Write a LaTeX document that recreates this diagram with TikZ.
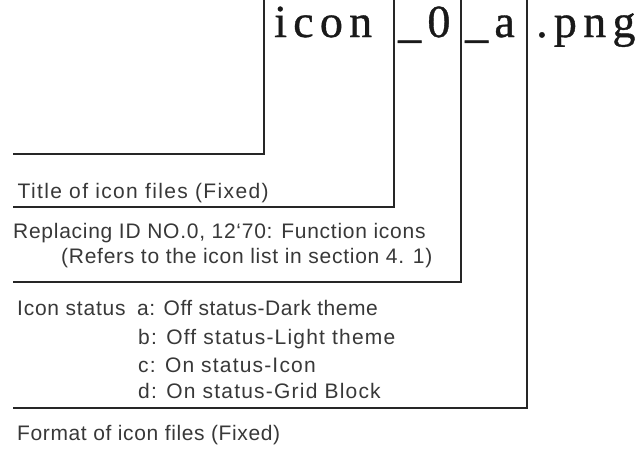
\documentclass[tikz,border=0pt]{standalone}
\usepackage{fontspec}
\setmainfont{Liberation Sans}
\newfontfamily\namefont[LetterSpace=13.6,FakeBold=0.8]{Liberation Serif}
\newcommand\setls[1]{\addfontfeature{LetterSpace=#1}}
\begin{document}
\begin{tikzpicture}[x=1pt,y=-1pt,
  bracket/.style={draw=black!85,line width=2.4pt,line join=miter},
  fname/.style={inner sep=0pt,anchor=base west,text=black!90,
    font=\namefont\fontsize{46}{50}\selectfont},
  label/.style={inner sep=0pt,anchor=base west,text=black!78,
    font=\fontsize{21}{24}\selectfont}]
\useasboundingbox[fill=white] (0,0) rectangle (643,456);
% file name parts
\node[fname] (icon) at (274,37) {icon};
\node[fname] (zero) at (398,37) {\_0};
\node[fname] (alet) at (465,37) {\_a};
\node[fname] (png)  at (536,37) {.png};
% bracket coordinates
\coordinate (t1) at (264,0);   \coordinate (c1) at (264,154); \coordinate (e1) at (13,154);
\coordinate (t2) at (394,0);   \coordinate (c2) at (394,207); \coordinate (e2) at (13,207);
\coordinate (t3) at (461,0);   \coordinate (c3) at (461,282); \coordinate (e3) at (13,282);
\coordinate (t4) at (527,0);   \coordinate (c4) at (527,408); \coordinate (e4) at (13,408);
\draw[bracket] (t1) -- (c1) -- (e1);
\draw[bracket] (t2) -- (c2) -- (e2);
\draw[bracket] (t3) -- (c3) -- (e3);
\draw[bracket] (t4) -- (c4) -- (e4);
% labels
\node[label] (title) at (17.5,198) {\setls{6.5}Title of icon files (Fixed)};
\node[label] (rep1) at (13,238) {\setls{3.5}Replacing ID NO.0, 12\symbol{"60}70: Function icons};
\node[label] (rep2) at (61,263) {\setls{3.5}(Refers to the icon list in section 4. 1)};
\node[label] (stat) at (17,315) {\setls{3.6}Icon status};
\node[label] (sta) at (137,315) {\setls{2.4}a: Off status-Dark theme};
\node[label] (stb) at (138,344) {\setls{5.7}b: Off status-Light theme};
\node[label] (stc) at (138,372) {\setls{5.6}c: On status-Icon};
\node[label] (std) at (138,398) {\setls{5.8}d: On status-Grid Block};
\node[label] (fmt) at (17,440) {\setls{3}Format of icon files (Fixed)};
\end{tikzpicture}
\end{document}
